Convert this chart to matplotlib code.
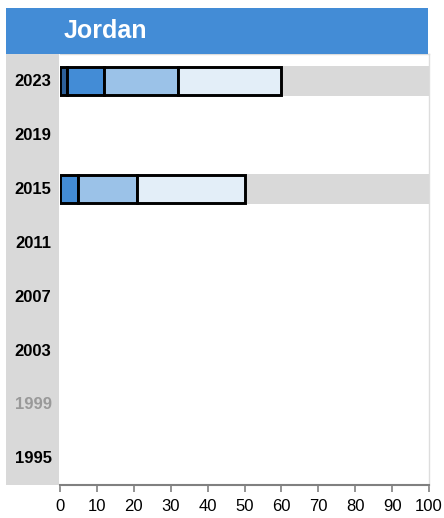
import matplotlib
matplotlib.use("Agg")
import matplotlib.pyplot as plt
from matplotlib.patches import Rectangle

title = "Jordan"
years = ["2023", "2019", "2015", "2011", "2007", "2003", "1999", "1995"]
year_colors = ["black", "black", "black", "black", "black", "black", "#999999", "black"]
data_years = ["2023", "2015"]
seg_bounds = {
    "2023": [0, 2, 12, 32, 60],
    "2015": [0, 0, 5, 21, 50],
}
seg_colors = ["#2D5F98", "#438CD6", "#9BC2E8", "#E3EEF8"]
xticks = [0, 10, 20, 30, 40, 50, 60, 70, 80, 90, 100]

W, H = 444, 518
fig = plt.figure(figsize=(W / 100, H / 100), dpi=100)
fig.patch.set_facecolor("white")

def fx(px):
    return px / W

def fy(py):
    return 1 - py / H

# title bar
fig.patches.append(Rectangle((fx(6), fy(54)), fx(428) - fx(6), fy(8) - fy(54),
                             transform=fig.transFigure, facecolor="#438CD6",
                             edgecolor="none", zorder=0))
fig.text(fx(64), fy(31), title, color="white", fontsize=18, fontweight="bold",
         va="center", ha="left", family="Liberation Sans")
# label column
fig.patches.append(Rectangle((fx(6), fy(485)), fx(59) - fx(6), fy(54) - fy(485),
                             transform=fig.transFigure, facecolor="#D9D9D9",
                             edgecolor="none", zorder=0))

ax = fig.add_axes([fx(60), fy(485), fx(429) - fx(60), fy(54) - fy(485)])
ax.set_xlim(0, 100)
n = len(years)
ax.set_ylim(n - 0.5, -0.5)
ax.set_facecolor("white")

ypos = {y: i for i, y in enumerate(years)}
bh = 0.55
for yr in data_years:
    i = ypos[yr]
    ax.barh(i, 100, left=0, height=bh, color="#D9D9D9", edgecolor="none", zorder=1)
    b = seg_bounds[yr]
    for k in range(len(b) - 1):
        w = b[k + 1] - b[k]
        if w <= 0:
            continue
        ax.barh(i, w, left=b[k], height=bh * 0.95, color=seg_colors[k],
                edgecolor="black", linewidth=2.1, zorder=3)

ax.set_yticks([])
for i, (yr, c) in enumerate(zip(years, year_colors)):
    fig.text(fx(33), fy(82 + i * 53.8), yr, color=c, fontsize=12, fontweight="bold",
             ha="center", va="center", family="Liberation Sans")

ax.set_xticks(xticks)
ax.set_xticklabels([str(t) for t in xticks], fontsize=12, family="Liberation Sans")
ax.tick_params(axis="x", length=5, width=1.2, color="#808080", pad=5)
for s in ["top", "left", "right"]:
    ax.spines[s].set_color("#DDDDDD")
    ax.spines[s].set_linewidth(1)
ax.spines["left"].set_color("white")
ax.spines["bottom"].set_color("#808080")
ax.spines["bottom"].set_linewidth(1.5)

fig.savefig("out.png", dpi=100)
